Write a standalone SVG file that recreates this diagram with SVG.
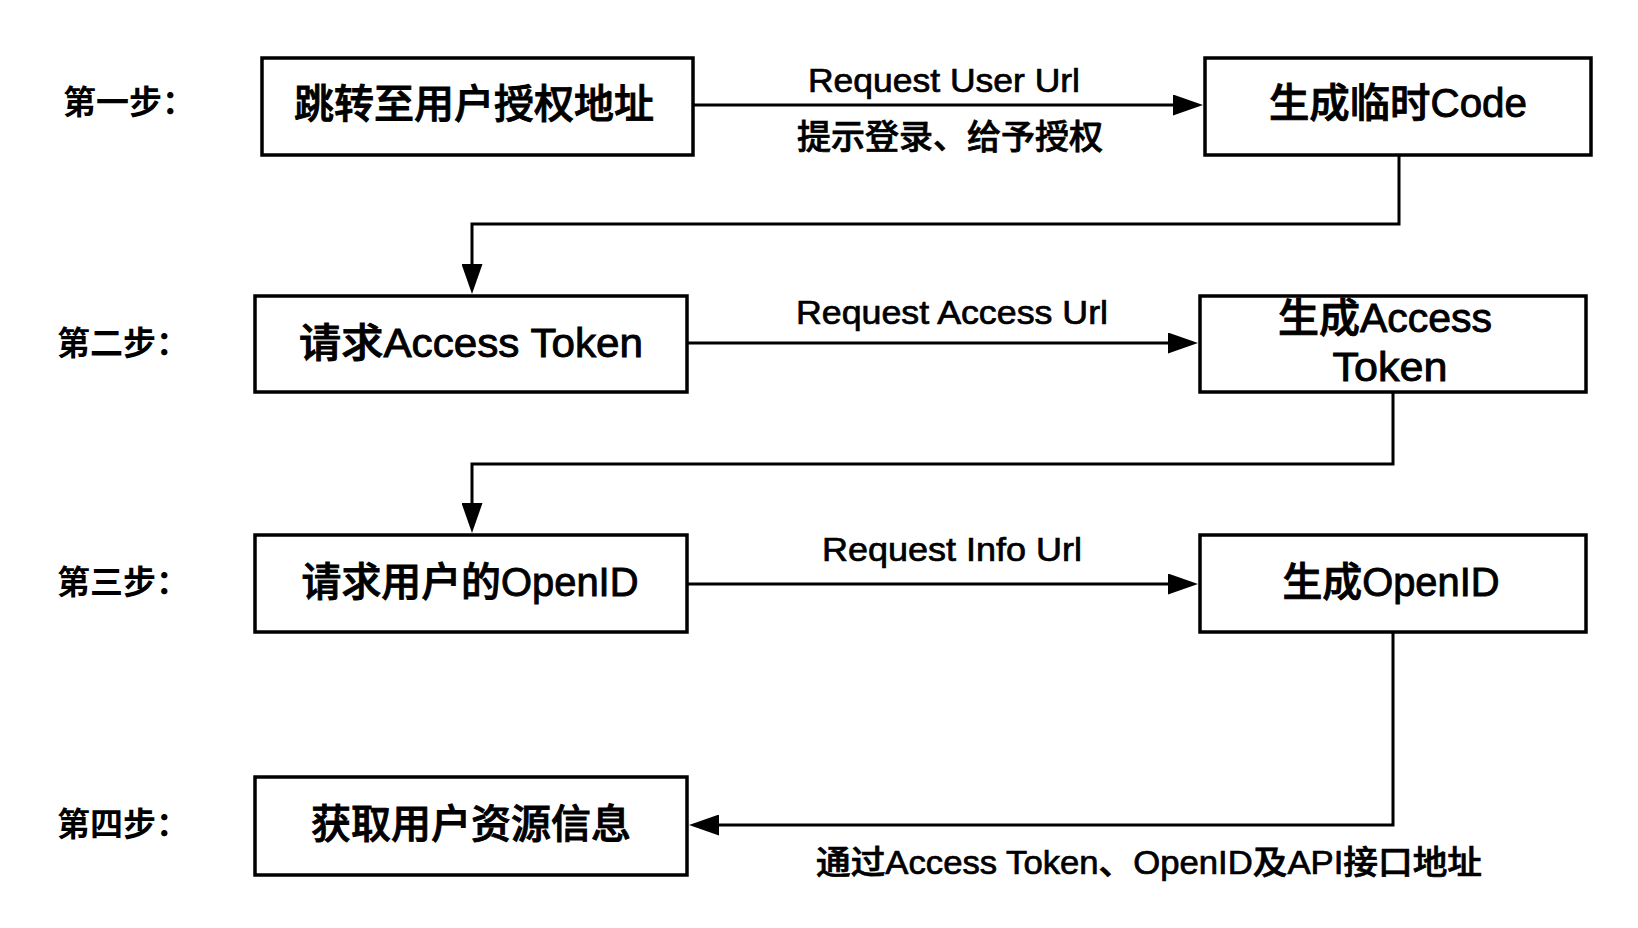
<svg xmlns="http://www.w3.org/2000/svg" width="1638" height="928" viewBox="0 0 1638 928">
<style>
.box{fill:#fff;stroke:#000;stroke-width:3.5}
.t{font-family:"Liberation Sans","Noto Sans CJK SC",sans-serif;fill:#000;dominant-baseline:central}
.big{font-size:40px;font-weight:500;text-anchor:middle;stroke:#000;stroke-width:0.9}
.lbl{font-size:33px;font-weight:500;text-anchor:middle;stroke:#000;stroke-width:0.7}
.step{font-size:33px;font-weight:700}
.con{fill:none;stroke:#000;stroke-width:3}
</style>
<defs>
<marker id="ah" markerUnits="userSpaceOnUse" markerWidth="30" markerHeight="21" refX="20" refY="10.5" orient="auto">
<path d="M0,0 L30,10.5 L0,21 z" fill="#000"/>
</marker>
</defs>
<rect width="1638" height="928" fill="#fff"/>
<g id="steps">
<text class="t step" x="63" y="102">第一步：</text>
<text class="t step" x="57" y="343">第二步：</text>
<text class="t step" x="57" y="582">第三步：</text>
<text class="t step" x="57" y="824">第四步：</text>
</g>
<g id="connectors">
<path class="con" d="M693,105 H1193" marker-end="url(#ah)"/>
<path class="con" d="M1399,155 V224 H472 V284" marker-end="url(#ah)"/>
<path class="con" d="M687,343 H1188" marker-end="url(#ah)"/>
<path class="con" d="M1393,392 V464 H472 V523" marker-end="url(#ah)"/>
<path class="con" d="M687,584 H1188" marker-end="url(#ah)"/>
<path class="con" d="M1393,632 V825 H699" marker-end="url(#ah)"/>
<text class="t lbl" x="944" y="80" textLength="272" lengthAdjust="spacingAndGlyphs">Request User Url</text>
<text class="t lbl" x="950" y="137" style="font-size:34px">提示登录、给予授权</text>
<text class="t lbl" x="952" y="312" textLength="312" lengthAdjust="spacingAndGlyphs">Request Access Url</text>
<text class="t lbl" x="952" y="549" textLength="260" lengthAdjust="spacingAndGlyphs">Request Info Url</text>
<text class="t lbl" x="1149" y="862" textLength="666" lengthAdjust="spacingAndGlyphs">通过Access Token、OpenID及API接口地址</text>
</g>
<g id="n1">
<rect class="box" x="262" y="58" width="431" height="97"/>
<text class="t big" x="474" y="104">跳转至用户授权地址</text>
</g>
<g id="n2">
<rect class="box" x="1205" y="58" width="386" height="97"/>
<text class="t big" x="1398" y="103" textLength="258" lengthAdjust="spacingAndGlyphs">生成临时Code</text>
</g>
<g id="n3">
<rect class="box" x="255" y="296" width="432" height="96"/>
<text class="t big" x="471" y="343" textLength="344" lengthAdjust="spacingAndGlyphs">请求Access Token</text>
</g>
<g id="n4">
<rect class="box" x="1200" y="296" width="386" height="96"/>
<text class="t big" x="1385" y="318" textLength="214" lengthAdjust="spacingAndGlyphs">生成Access</text>
<text class="t big" x="1390" y="367" textLength="115" lengthAdjust="spacingAndGlyphs">Token</text>
</g>
<g id="n5">
<rect class="box" x="255" y="535" width="432" height="97"/>
<text class="t big" x="470" y="582" textLength="337" lengthAdjust="spacingAndGlyphs">请求用户的OpenID</text>
</g>
<g id="n6">
<rect class="box" x="1200" y="535" width="386" height="97"/>
<text class="t big" x="1391" y="582" textLength="217" lengthAdjust="spacingAndGlyphs">生成OpenID</text>
</g>
<g id="n7">
<rect class="box" x="255" y="777" width="432" height="98"/>
<text class="t big" x="471" y="824">获取用户资源信息</text>
</g>
</svg>
